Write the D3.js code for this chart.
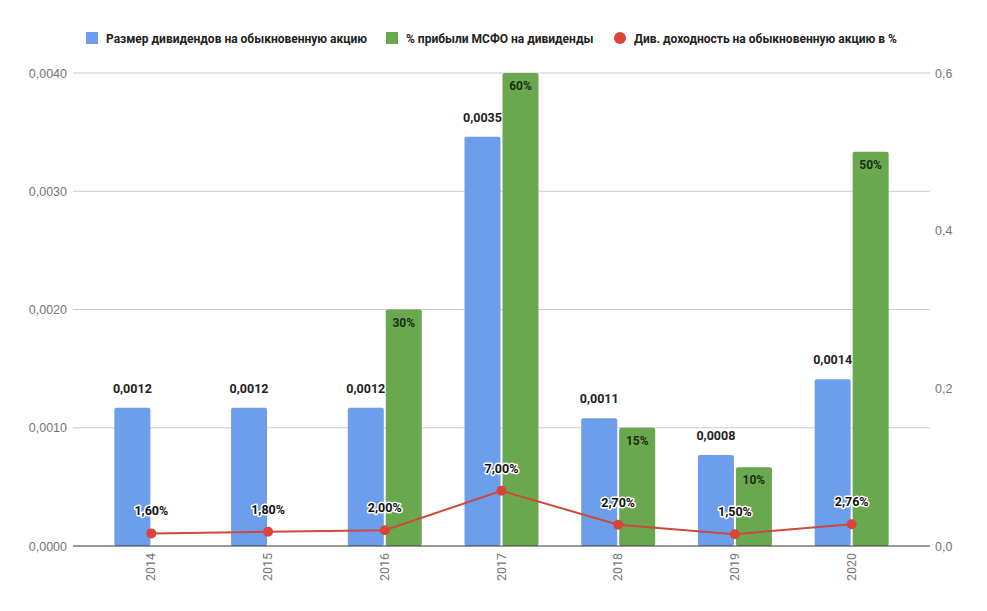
<!DOCTYPE html>
<html><head><meta charset="utf-8">
<script src="https://cdn.jsdelivr.net/npm/d3@7"></script>
<style>body{margin:0;background:#fff}svg{display:block;font-family:Roboto,"Noto Sans",sans-serif}</style>
</head><body><svg id="c" width="987" height="611"></svg>
<script>
const years = ["2014","2015","2016","2017","2018","2019","2020"];
const dividend = [0.00117, 0.00117, 0.00117, 0.00346, 0.00108, 0.00077, 0.00141];
const payout = [null, null, 0.30, 0.60, 0.15, 0.10, 0.50];
const yieldPct = [0.016, 0.018, 0.020, 0.070, 0.027, 0.015, 0.0276];
const yieldLabels = ["1,60%","1,80%","2,00%","7,00%","2,70%","1,50%","2,76%"];
const leftTicks = [0, 0.001, 0.002, 0.003, 0.004];
const rightTicks = [0, 0.2, 0.4, 0.6];
const legendNames = ["Размер дивидендов на обыкновенную акцию","% прибыли МСФО на дивиденды","Див. доходность на обыкновенную акцию в %"];
const colors = ["#6d9eeb","#6aa84f","#db4437"];

const svg = d3.select("#c");
const L = 73, R = 930, T = 73, B = 546;
const x = d3.scaleBand().domain(years).range([93, 910]);
const yL = d3.scaleLinear().domain([0, 0.004]).range([B, T]);
const yR = d3.scaleLinear().domain([0, 0.6]).range([B, T]);
const fmtComma = (v, d) => v.toFixed(d).replace(".", ",");

// gridlines
svg.append("g").selectAll("line").data(leftTicks.slice(1)).join("line")
  .attr("x1", L).attr("x2", R).attr("y1", d => yL(d)).attr("y2", d => yL(d))
  .attr("stroke", "#cccccc").attr("stroke-width", 1);

// left axis
const gl = svg.append("g").attr("transform", `translate(${L},0)`)
  .call(d3.axisLeft(yL).tickValues(leftTicks).tickSize(0).tickPadding(6).tickFormat(d => fmtComma(d, 4)));
gl.select(".domain").remove();
gl.selectAll("text").attr("fill", "#757575").attr("font-size", 12.5);

// right axis
const gr = svg.append("g").attr("transform", `translate(${R},0)`)
  .call(d3.axisRight(yR).tickValues(rightTicks).tickSize(0).tickPadding(5).tickFormat(d => fmtComma(d, 1)));
gr.select(".domain").remove();
gr.selectAll("text").attr("fill", "#757575").attr("font-size", 12.5);

const bw = 36, gap = 2;
const cx = d => x(d) + x.bandwidth() / 2;

// blue bars
svg.append("g").selectAll("rect").data(years).join("rect")
  .attr("x", d => cx(d) - gap / 2 - bw).attr("width", bw)
  .attr("y", (d, i) => yL(dividend[i])).attr("height", (d, i) => B - yL(dividend[i]))
  .attr("fill", colors[0]).attr("rx", 2);
// green bars
const gData = years.map((d, i) => ({ y: d, v: payout[i] })).filter(d => d.v != null);
svg.append("g").selectAll("rect").data(gData).join("rect")
  .attr("x", d => cx(d.y) + gap / 2).attr("width", bw)
  .attr("y", d => yR(d.v)).attr("height", d => B - yR(d.v))
  .attr("fill", colors[1]).attr("rx", 2);

// baseline
svg.append("line").attr("x1", L).attr("x2", R).attr("y1", B).attr("y2", B).attr("stroke", "#333").attr("stroke-width", 1);

// blue labels
svg.append("g").selectAll("text").data(years).join("text")
  .attr("x", d => cx(d) - gap / 2 - bw / 2).attr("y", (d, i) => yL(dividend[i]) - 15)
  .attr("text-anchor", "middle").attr("font-size", 12.5).attr("font-weight", "bold").attr("fill", "#222")
  .text((d, i) => fmtComma(dividend[i], 4));
// green labels
svg.append("g").selectAll("text").data(gData).join("text")
  .attr("x", d => cx(d.y) + gap / 2 + bw / 2).attr("y", d => yR(d.v) + 17)
  .attr("text-anchor", "middle").attr("font-size", 12).attr("font-weight", "bold").attr("fill", "#1a2e12")
  .text(d => Math.round(d.v * 100) + "%");

// line
const line = d3.line().x((d, i) => cx(years[i])).y(d => yR(d));
svg.append("path").datum(yieldPct).attr("d", line).attr("fill", "none").attr("stroke", "#cc4a3c").attr("stroke-width", 2);
svg.append("g").selectAll("circle").data(yieldPct).join("circle")
  .attr("cx", (d, i) => cx(years[i])).attr("cy", d => yR(d)).attr("r", 5).attr("fill", colors[2]);
svg.append("g").selectAll("text").data(yieldPct).join("text")
  .attr("x", (d, i) => cx(years[i])).attr("y", d => yR(d) - 18)
  .attr("text-anchor", "middle").attr("font-size", 12.5).attr("font-weight", "bold").attr("fill", "#111")
  .attr("stroke", "#fff").attr("stroke-width", 3).attr("paint-order", "stroke").attr("stroke-linejoin", "round")
  .text((d, i) => yieldLabels[i]);

// x labels
svg.append("g").selectAll("text").data(years).join("text")
  .attr("transform", d => `translate(${cx(d) + 4},553) rotate(-90)`)
  .attr("text-anchor", "end").attr("font-size", 12.5).attr("fill", "#757575").text(d => d);

// legend
const legX = [86, 386, 614];
const lg = svg.append("g");
legendNames.forEach((n, i) => {
  if (i < 2) lg.append("rect").attr("x", legX[i]).attr("y", 32).attr("width", 12).attr("height", 12).attr("fill", colors[i]);
  else lg.append("circle").attr("cx", legX[i] + 6).attr("cy", 38).attr("r", 6).attr("fill", colors[i]);
  lg.append("text").attr("x", legX[i] + 20).attr("y", 42.5).attr("font-size", 12).attr("font-weight", "bold")
    .attr("fill", "#222").text(n);
});
</script></body></html>
